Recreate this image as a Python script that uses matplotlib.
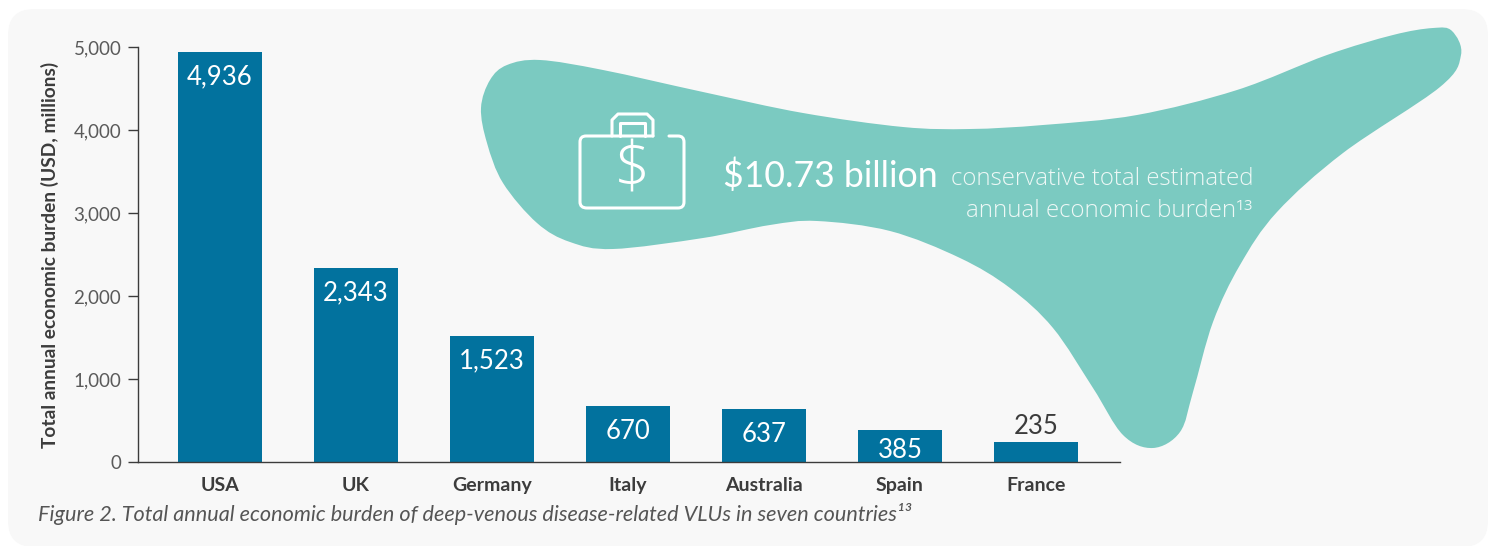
import numpy as np
from matplotlib import pyplot as plt
from matplotlib.patches import FancyBboxPatch, PathPatch
from matplotlib.path import Path

plt.rcParams["font.family"] = ["Lato", "DejaVu Sans"]

countries = ["USA", "UK", "Germany", "Italy", "Australia", "Spain", "France"]
burden = [4936, 2343, 1523, 670, 637, 385, 235]
y_ticks = [0, 1000, 2000, 3000, 4000, 5000]

BAR = "#02729e"
TEAL = "#7bcac1"
CARD = "#f8f8f8"
W, H = 1499, 546

# outline of the teal blob, in image pixels
blob_x = [481, 490, 507, 540, 603, 703, 803, 903, 970, 1043, 1137, 1237, 1327, 1393, 1433, 1452, 1461, 1440, 1343,
          1277, 1240, 1213, 1193, 1180, 1153, 1123, 1093, 1053, 1010, 960, 890, 817, 770, 703, 613, 570, 537, 503, 487]
blob_y = [108, 80, 65, 60, 70, 92, 113, 127, 129, 125, 115, 90, 55, 35, 28, 31, 55, 87, 153,
          212, 265, 322, 392, 432, 448, 435, 388, 328, 288, 258, 231, 221, 225, 238, 249, 242, 223, 183, 143]


def closed_spline(xs, ys):
    # catmull-rom through the points, as bezier segments
    pts = np.column_stack([xs, ys]).astype(float)
    n = len(pts)
    verts = [pts[0]]
    codes = [Path.MOVETO]
    for i in range(n):
        p0, p1, p2, p3 = pts[i - 1], pts[i], pts[(i + 1) % n], pts[(i + 2) % n]
        verts += [p1 + (p2 - p0) / 6, p2 - (p3 - p1) / 6, p2]
        codes += [Path.CURVE4] * 3
    return Path(verts, codes)


fig = plt.figure(figsize=(W / 100, H / 100), dpi=100, facecolor="white")

# background layer in pixel coordinates
bg = fig.add_axes([0, 0, 1, 1])
bg.set_xlim(0, W)
bg.set_ylim(H, 0)
bg.axis("off")
bg.add_patch(FancyBboxPatch((8, 9), 1480, 538, boxstyle="round,pad=0,rounding_size=26",
                            fc=CARD, ec="none"))
bg.add_patch(PathPatch(closed_spline(blob_x, blob_y), fc=TEAL, ec="none"))

# briefcase icon
icon = dict(color="white", lw=2.2, solid_capstyle="round", solid_joinstyle="round")
bg.add_patch(PathPatch(Path(
    [(669, 136), (678, 136), (684, 136), (684, 142), (684, 202), (684, 208), (678, 208),
     (587, 208), (580, 208), (580, 202), (580, 142), (580, 136), (586, 136), (653, 136)],
    [Path.MOVETO, Path.LINETO, Path.CURVE3, Path.CURVE3, Path.LINETO, Path.CURVE3, Path.CURVE3,
     Path.LINETO, Path.CURVE3, Path.CURVE3, Path.LINETO, Path.CURVE3, Path.CURVE3,
     Path.LINETO]), fc="none", ec="white", lw=2.2, capstyle="round", joinstyle="round"))
bg.plot([612, 612, 618, 647, 653, 653], [136, 120, 114, 114, 120, 136], **icon)
bg.plot([620, 620, 645, 645], [136, 123, 123, 136], **icon)
bg.text(632, 172, "$", color="white", fontsize=46, fontweight="light", family="Open Sans",
        ha="center", va="center")

bg.text(723, 176, "$10.73 billion", color="white", fontsize=25.7, ha="left", va="center")
bg.text(1102, 179, "conservative total estimated", color="#eef8f6", fontsize=17.3, fontweight="light",
        family="Open Sans", ha="center", va="center")
bg.text(1109, 211, "annual economic burden¹³", color="#eef8f6", fontsize=17.3, fontweight="light",
        family="Open Sans", ha="center", va="center")
bg.text(38, 514, "Figure 2. Total annual economic burden of deep-venous disease-related VLUs in seven countries¹³",
        color="#555555", fontsize=15.6, style="italic", ha="left", va="center")

# chart
ax = fig.add_axes([138 / W, (H - 462) / H, (1120 - 138) / W, 415 / H])
ax.patch.set_alpha(0)
x = np.arange(len(countries))
ax.bar(x, burden, width=84 / 136, color=BAR)
ax.set_xlim((138 - 220) / 136, (1120 - 220) / 136)
ax.set_ylim(0, 5000)

for xi, v in zip(x, burden):
    if v < 300:
        ax.annotate(f"{v:,}", (xi, v), xytext=(0, 11.5), textcoords="offset points", ha="center", va="center",
                    color="#3c3c3c", fontsize=18.5)
    elif v < 500:
        ax.annotate(f"{v:,}", (xi, 0), xytext=(0, 8.6), textcoords="offset points", ha="center", va="center",
                    color="white", fontsize=18.5)
    else:
        ax.annotate(f"{v:,}", (xi, v), xytext=(0, -18), textcoords="offset points", ha="center", va="center",
                    color="white", fontsize=18.5)

ax.set_xticks(x, countries, fontweight="bold", fontsize=14, color="#3c3c3c")
ax.set_yticks(y_ticks, [f"{t:,}" for t in y_ticks], fontsize=13.5, color="#5a5a5a")
ax.tick_params(axis="x", length=0, pad=10.5)
ax.tick_params(axis="y", length=7, width=1, color="#3c3c3c", pad=5)
for s in ["top", "right"]:
    ax.spines[s].set_visible(False)
for s in ["left", "bottom"]:
    ax.spines[s].set_color("#3c3c3c")
    ax.spines[s].set_linewidth(1)
bg.text(50, 255, "Total annual economic burden (USD, millions)", rotation=90, fontweight="bold",
        fontsize=13.8, color="#3c3c3c", ha="center", va="center")

plt.savefig("out.png", dpi=100)
